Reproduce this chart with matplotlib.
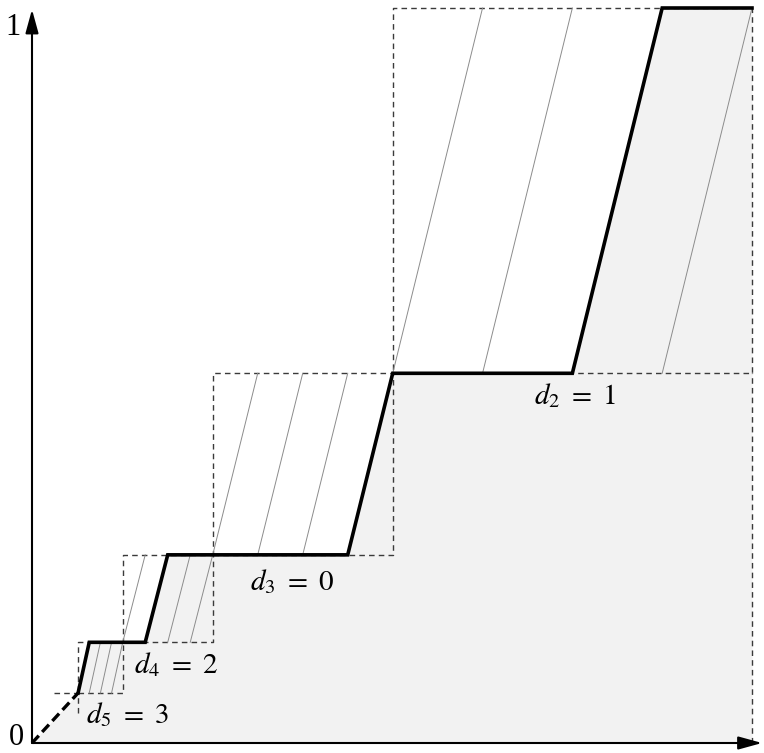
import matplotlib
matplotlib.use('Agg')
import matplotlib.pyplot as plt
import numpy as np

plt.rcParams['mathtext.fontset'] = 'stix'
plt.rcParams['font.family'] = ['Liberation Serif', 'DejaVu Serif']

# Nested boxes (data units, outer square = [0,1]x[0,1])
box_left = [0.501, 0.251, 0.126, 0.064]
box_right = [1.000, 0.501, 0.251, 0.126]
box_bottom = [0.503, 0.256, 0.137, 0.068]
box_top = [1.000, 0.503, 0.256, 0.137]
thick_k = [2, 3, 1, 0]          # which of the 4 slanted lines is the bold one
n_lines = 4

# extra dashed guide segments: (x0, y0, x1, y1)
extra_dashed = [(1.0, 0.0, 1.0, 0.503),
                (0.031, 0.068, 0.064, 0.068),
                (0.064, 0.041, 0.064, 0.068)]

labels = [r'$d_2\ =\ 1$', r'$d_3\ =\ 0$', r'$d_4\ =\ 2$', r'$d_5\ =\ 3$']
label_x = [0.754, 0.361, 0.200, 0.132]
label_y = [0.472, 0.219, 0.106, 0.038]

W, H = 764, 753
fig = plt.figure(figsize=(W / 100, H / 100), dpi=100)
ax = fig.add_axes([0, 0, 1, 1])
ax.set_xlim(-32 / 720, (W - 32) / 720)
ax.set_ylim(-10 / 735, (H - 10) / 735)
ax.axis('off')

dash_kw = dict(color='#3a3a3a', lw=1.0, ls=(0, (4, 3)), zorder=2)

# thin slanted lines and dashed boxes
for x0, x1, y0, y1 in zip(box_left, box_right, box_bottom, box_top):
    w = x1 - x0
    for k in range(n_lines):
        ax.plot([x0 + k * w / n_lines, x0 + (k + 1) * w / n_lines], [y0, y1],
                color='#8c8c8c', lw=0.7, zorder=3)
    ax.plot([x0, x1, x1, x0, x0], [y0, y0, y1, y1, y0], **dash_kw)

for (a, b, c, d) in extra_dashed:
    ax.plot([a, c], [b, d], **dash_kw)

# bold staircase curve
cx, cy = [box_left[-1]], [box_bottom[-1]]
for i in reversed(range(len(box_left))):
    x0, x1, y0, y1 = box_left[i], box_right[i], box_bottom[i], box_top[i]
    w = x1 - x0
    k = thick_k[i]
    cx += [x0 + k * w / n_lines, x0 + (k + 1) * w / n_lines]
    cy += [y0, y1]
cx.append(1.0)
cy.append(1.0)

fx = [0.0] + cx
fy = [0.0] + cy
ax.fill_between(fx, fy, 0, color='#f2f2f2', zorder=0, lw=0)

ax.plot(cx, cy, color='black', lw=2.6, solid_joinstyle='miter', zorder=5)
ax.plot([0, cx[0]], [0, cy[0]], color='black', lw=2.4, ls=(0, (3, 1.5)), zorder=5)

# axes with arrows
arrow = dict(arrowstyle='-|>,head_length=0.8,head_width=0.22', lw=1.5,
             color='black', mutation_scale=18, shrinkA=0, shrinkB=0)
ax.annotate('', xy=(0, 0.998), xytext=(0, 0), arrowprops=arrow, zorder=6)
ax.annotate('', xy=(1.014, 0), xytext=(0, 0), arrowprops=arrow, zorder=6)

ax.text(-0.021, 0.008, '0', fontsize=22, ha='center', va='center')
ax.text(-0.026, 0.973, '1', fontsize=22, ha='center', va='center')

for t, x, y in zip(labels, label_x, label_y):
    ax.text(x, y, t, fontsize=21, ha='center', va='center', zorder=7)

fig.savefig('out.png', dpi=100)
